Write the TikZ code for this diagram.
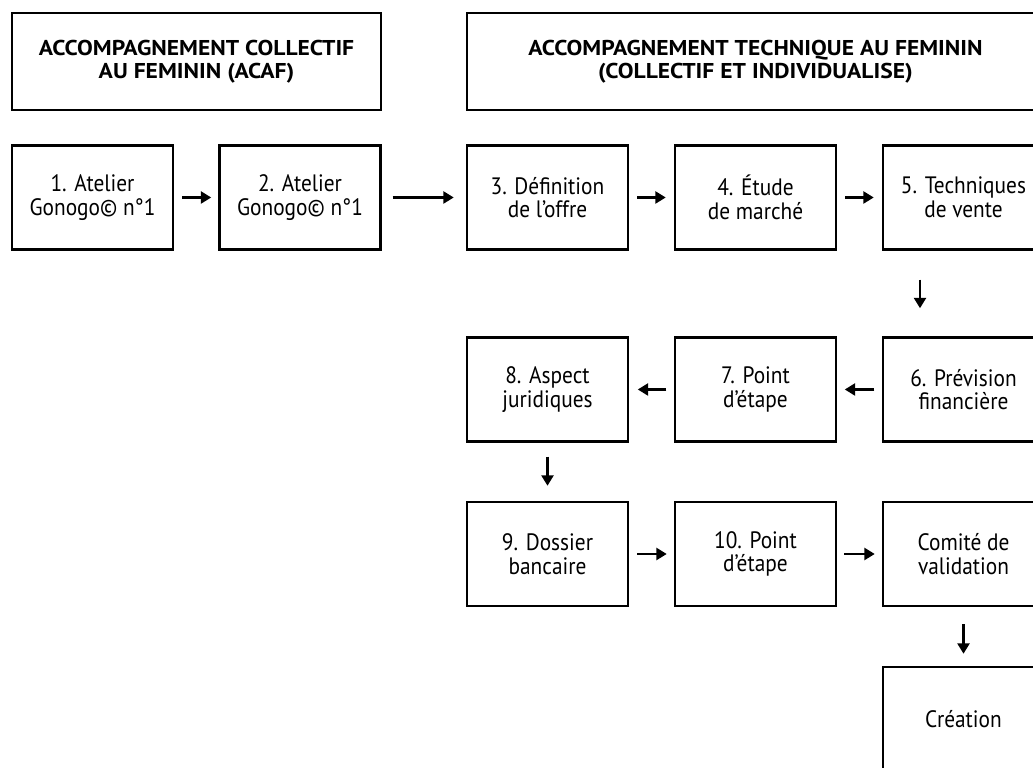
\documentclass[tikz,border=0pt]{standalone}
\usepackage{fontspec}
\setmainfont{PT Sans}[UprightFeatures={FakeStretch=0.9}, BoldFeatures={FakeStretch=1.1}]
\usetikzlibrary{arrows.meta}
\tikzset{
	etape/.style={draw, line width=1.4pt, minimum width=3.22cm, minimum height=2.08cm, align=center, inner sep=0pt, font=\fontsize{13.5}{13.4}\selectfont},
	titre/.style={draw, line width=1.4pt, minimum height=1.94cm, align=center, inner sep=0pt, font=\fontsize{12.2}{13}\selectfont\bfseries},
	fleche/.style={line width=1.5pt, -{Triangle[length=0.21cm, width=0.24cm]}}
}
\begin{document}
\begin{tikzpicture}
	\useasboundingbox (0, 0) rectangle (20.66, 15.36);
	\clip (0, 0) rectangle (20.66, 15.36);
	\node[titre, minimum width=7.38cm] (titreA) at (3.93, 14.13) {ACCOMPAGNEMENT COLLECTIF\\AU FEMININ (ACAF)};
	\node[titre, minimum width=11.54cm] (titreB) at (15.11, 14.13) {ACCOMPAGNEMENT TECHNIQUE AU FEMININ\\(COLLECTIF ET INDIVIDUALISE)};
	\node[etape] (atelierA) at (1.85, 11.41) {1. Atelier\\Gonogo© n°1};
	\node[etape] (atelierB) at (6.00, 11.41) {2. Atelier\\Gonogo© n°1};
	\node[etape] (offre) at (10.95, 11.41) {3. Définition\\de l’offre};
	\node[etape] (marche) at (15.11, 11.41) {4. Étude\\de marché};
	\node[etape] (vente) at (19.27, 11.41) {5. Techniques\\de vente};
	\node[etape] (prevision) at (19.27, 7.57) {6. Prévision\\financière};
	\node[etape] (pointA) at (15.11, 7.57) {7. Point\\d’étape};
	\node[etape] (juridique) at (10.95, 7.57) {8. Aspect\\juridiques};
	\node[etape] (dossier) at (10.95, 4.28) {9. Dossier\\bancaire};
	\node[etape] (pointB) at (15.11, 4.28) {10. Point\\d’étape};
	\node[etape] (comite) at (19.27, 4.28) {Comité de\\validation};
	\node[etape] (creation) at (19.27, 0.98) {Création};
	\draw[fleche, shorten <=0.16cm, shorten >=0.14cm] (atelierA) -- (atelierB);
	\draw[fleche, shorten <=0.22cm, shorten >=0.24cm] (atelierB) -- (offre);
	\draw[fleche, shorten <=0.16cm, shorten >=0.16cm] (offre) -- (marche);
	\draw[fleche, shorten <=0.16cm, shorten >=0.16cm] (marche) -- (vente);
	\draw[fleche, shorten <=0.58cm, shorten >=0.56cm] ([xshift=-0.87cm]vente.south) -- ([xshift=-0.87cm]prevision.north);
	\draw[fleche, shorten <=0.15cm, shorten >=0.15cm] (prevision) -- (pointA);
	\draw[fleche, shorten <=0.15cm, shorten >=0.17cm] (pointA) -- (juridique);
	\draw[fleche, shorten <=0.28cm, shorten >=0.30cm] (juridique) -- (dossier);
	\draw[fleche, shorten <=0.16cm, shorten >=0.14cm] (dossier) -- (pointB);
	\draw[fleche, shorten <=0.14cm, shorten >=0.14cm] (pointB) -- (comite);
	\draw[fleche, shorten <=0.34cm, shorten >=0.24cm] (comite) -- (creation);
\end{tikzpicture}
\end{document}
